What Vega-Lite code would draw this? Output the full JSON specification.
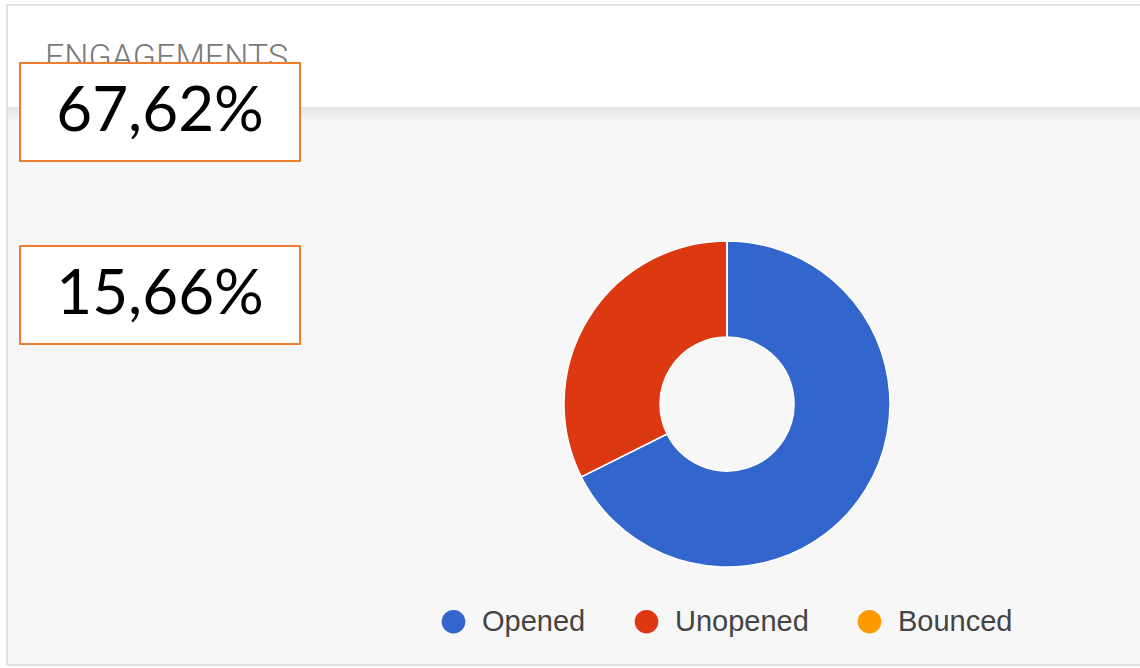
{
  "$schema": "https://vega.github.io/schema/vega-lite/v6.json",
  "width": 1140,
  "height": 668,
  "autosize": {"type": "fit", "contains": "padding"},
  "padding": 0,
  "background": "#ffffff",
  "config": {"view": {"stroke": null}},
  "datasets": {
    "engagement": [
      {"status": "Opened", "share": 67.62, "rank": 1},
      {"status": "Unopened", "share": 32.38, "rank": 2},
      {"status": "Bounced", "share": 0, "rank": 3}
    ],
    "callouts": [
      {"label": "67,62%"},
      {"label": "15,66%"}
    ],
    "card": [
      {"title": "ENGAGEMENTS"}
    ]
  },
  "layer": [
    {
      "data": {"name": "card"},
      "mark": {"type": "rect", "x": 7, "y": 5, "x2": 1150, "y2": 665, "fill": "#f7f7f7", "stroke": "#dcdcdc", "strokeWidth": 1.5},
      "encoding": {}
    },
    {
      "data": {"name": "card"},
      "mark": {"type": "rect", "x": 8, "y": 106, "x2": 1150, "y2": 122,
        "fill": {"gradient": "linear", "x1": 0, "y1": 0, "x2": 0, "y2": 1, "stops": [{"offset": 0, "color": "#e2e2e2"}, {"offset": 1, "color": "#f7f7f7"}]}},
      "encoding": {}
    },
    {
      "data": {"name": "card"},
      "mark": {"type": "rect", "x": 8, "y": 6, "x2": 1150, "y2": 107, "fill": "#ffffff"},
      "encoding": {}
    },
    {
      "data": {"name": "card"},
      "mark": {"type": "text", "x": 45, "y": 68, "align": "left", "baseline": "alphabetic", "font": "Roboto", "fontWeight": 300, "fontSize": 34, "fill": "#7a7a7a"},
      "encoding": {"text": {"field": "title"}}
    },
    {
      "data": {"name": "callouts"},
      "mark": {"type": "rect", "x": 20, "x2": 300, "fill": "#ffffff", "stroke": "#ee7d31", "strokeWidth": 2},
      "encoding": {
        "y": {"field": "label", "type": "nominal", "axis": null,
          "scale": {"type": "band", "domain": ["67,62%", "15,66%"], "range": [63, 344], "paddingInner": 0.4645, "paddingOuter": 0}}
      }
    },
    {
      "data": {"name": "callouts"},
      "mark": {"type": "text", "x": 160, "align": "center", "baseline": "middle", "font": "Lato", "fontSize": 62, "fill": "#000000"},
      "encoding": {
        "y": {"field": "label", "type": "nominal", "axis": null, "bandPosition": 0.5},
        "text": {"field": "label"}
      }
    },
    {
      "data": {"name": "engagement"},
      "mark": {"type": "arc", "x": 727, "y": 404, "outerRadius": 163, "innerRadius": 67, "stroke": "#ffffff", "strokeWidth": 1.5},
      "encoding": {
        "theta": {"field": "share", "type": "quantitative", "stack": true},
        "order": {"field": "rank", "type": "quantitative"},
        "color": {
          "field": "status", "type": "nominal",
          "scale": {"domain": ["Opened", "Unopened", "Bounced"], "range": ["#3366cc", "#dc3912", "#ff9900"]},
          "legend": {
            "title": null, "orient": "none", "direction": "horizontal",
            "legendX": 439, "legendY": 607,
            "symbolType": "circle", "symbolSize": 560, "symbolStrokeWidth": 0,
            "labelFont": "Liberation Sans", "labelFontSize": 29, "labelColor": "#444444",
            "labelOffset": 14, "columnPadding": 46, "padding": 0
          }
        }
      }
    }
  ]
}
